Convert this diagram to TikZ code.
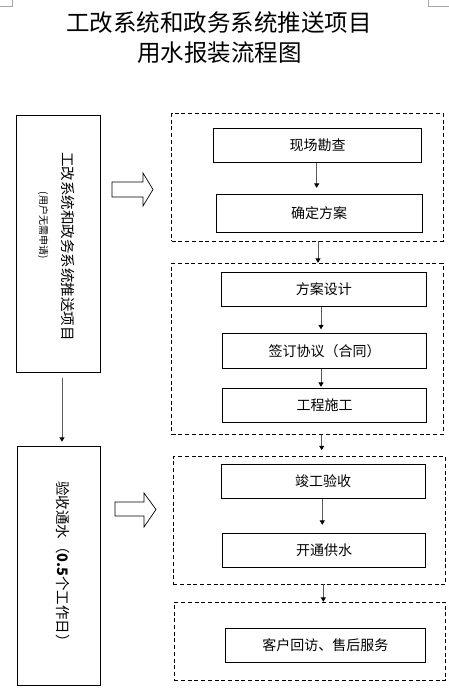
\documentclass[tikz,border=0pt]{standalone}
\usepackage{fontspec}
\setmainfont{Noto Sans CJK SC}
\newfontfamily\cjk{Noto Sans CJK SC}
\usetikzlibrary{arrows.meta}
\tikzset{
  box/.style={draw=black, line width=0.9pt, fill=white, inner sep=0pt, font=\cjk\fontsize{14}{16}\selectfont},
  grp/.style={draw=black, line width=0.9pt, dash pattern=on 4pt off 2.7pt, inner sep=0pt},
  lbox/.style={draw=black, line width=0.9pt, inner sep=0pt},
  vtext/.style={rotate=-90, inner sep=0pt, font=\cjk\fontsize{14.5}{16}\selectfont},
  arr/.style={draw=black!65, line width=1pt, -{Triangle[length=4.5pt,width=5pt,color=black]}},
  blockarr/.style={draw=black, line width=0.7pt, fill=white, line join=miter},
  cornermark/.style={draw=black!35, line width=0.8pt}
}
\begin{document}
\begin{tikzpicture}[x=1pt,y=-1pt]
\useasboundingbox (0,0) rectangle (449,697);
% page corner marks
\draw[cornermark] (0,6) -- (12.7,6) -- (12.7,0);
\draw[cornermark] (428.3,0) -- (428.3,6) -- (449,6);
% title
\node[font=\cjk\fontsize{23.5}{30}\selectfont, inner sep=0pt] (t1) at (219,22.5) {工改系统和政务系统推送项目};
\node[font=\cjk\fontsize{23.5}{30}\selectfont, inner sep=0pt] (t2) at (219.5,53) {用水报装流程图};
% left boxes
\node[lbox, minimum width=84.7, minimum height=257.7] (L1) at (58.35,243.85) {};
\node[vtext] (L1t) at (68,246.5) {工改系统和政务系统推送项目};
\node[vtext, font=\cjk\fontsize{10}{12}\selectfont] (L1s) at (43,225) {(用户无需申请)};
\node[lbox, minimum width=83.4, minimum height=238.3] (L2) at (59,565.85) {};
\node[vtext] (L2t) at (63,565) {验收通水（\textbf{0.5}个工作日）};
\draw[arr, shorten <=4.5pt, shorten >=4.5pt] (L1.south -| 62,0) -- (L2.north -| 62,0);
% block arrows
\draw[blockarr] (112,182) -- (143,182) -- (143,173) -- (153,189.5) -- (143,206) -- (143,197) -- (112,197) -- cycle;
\draw[blockarr] (115,502) -- (144,502) -- (144,493) -- (156,509.5) -- (144,527) -- (144,516) -- (115,516) -- cycle;
% groups
\node[grp, minimum width=271.3, minimum height=127.7] (g1) at (307.35,177.15) {};
\node[grp, minimum width=271.3, minimum height=171] (g2) at (307.35,348.8) {};
\node[grp, minimum width=272.4, minimum height=127.3] (g3) at (309.5,520.35) {};
\node[grp, minimum width=271.4, minimum height=77.7] (g4) at (310,641.15) {};
% boxes
\node[box, minimum width=208.4, minimum height=34] (b1) at (317.5,145.3) {现场勘查};
\node[box, minimum width=206.3, minimum height=38.4] (b2) at (319.15,213.5) {确定方案};
\node[box, minimum width=205.7, minimum height=34.4] (b3) at (323.85,289.5) {方案设计};
\node[box, minimum width=204.4, minimum height=35] (b4) at (324.5,350.8) {签订协议（合同）};
\node[box, minimum width=204.4, minimum height=34] (b5) at (324.5,405.3) {工程施工};
\node[box, minimum width=204, minimum height=34.3] (b6) at (323,481.15) {竣工验收};
\node[box, minimum width=203.4, minimum height=34] (b7) at (324,550.3) {开通供水};
\node[box, minimum width=200.7, minimum height=34] (b8) at (325.35,645.3) {客户回访、售后服务};
% connectors
\draw[arr, shorten >=6pt] (b1.south -| 316.7,0) -- (b2.north -| 316.7,0);
\draw[arr] (g1.south -| 318,0) -- (g2.north -| 318,0);
\draw[arr, shorten >=3.5pt] (b3.south -| 321,0) -- (b4.north -| 321,0);
\draw[arr, shorten >=1pt] (b4.south -| 321,0) -- (b5.north -| 321,0);
\draw[arr, shorten >=6pt] (g2.south -| 321.7,0) -- (g3.north -| 321.7,0);
\draw[arr, shorten >=8pt] (b6.south -| 322.3,0) -- (b7.north -| 322.3,0);
\draw[arr] (g3.south -| 323.3,0) -- (g4.north -| 323.3,0);
\end{tikzpicture}
\end{document}
